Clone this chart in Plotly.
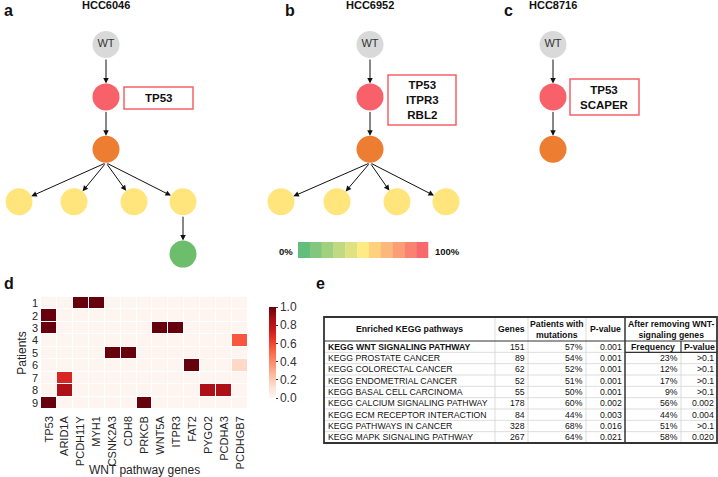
import plotly.graph_objects as go

# ---------------- DATA ----------------
tree_names = ["HCC6046", "HCC6952", "HCC8716"]
panel_letters = ["a", "b", "c"]
# parent index of each node (None = root)
tree_a_parents = [None, 0, 1, 2, 2, 2, 2, 6]
tree_b_parents = [None, 0, 1, 2, 2, 2, 2]
tree_c_parents = [None, 0, 1]
# clonal frequency class of each node
tree_a_classes = ["WT", "100%", "90%", "50%", "50%", "50%", "50%", "0%"]
tree_b_classes = ["WT", "100%", "90%", "50%", "50%", "50%", "50%"]
tree_c_classes = ["WT", "100%", "90%"]
tree_a_genes = ["TP53"]
tree_b_genes = ["TP53", "ITPR3", "RBL2"]
tree_c_genes = ["TP53", "SCAPER"]
scale_labels = ["0%", "100%"]

genes = ["TP53", "ARID1A", "PCDH11Y", "MYH1", "CSNK2A3", "CDH8", "PRKCB",
         "WNT5A", "ITPR3", "FAT2", "PYGO2", "PCDHA3", "PCDHGB7"]
patients = ["1", "2", "3", "4", "5", "6", "7", "8", "9"]
z = [
    [0, 0, 1, 1, 0, 0, 0, 0, 0, 0, 0, 0, 0],
    [1, 0, 0, 0, 0, 0, 0, 0, 0, 0, 0, 0, 0],
    [1, 0, 0, 0, 0, 0, 0, 1, 1, 0, 0, 0, 0],
    [0, 0, 0, 0, 0, 0, 0, 0, 0, 0, 0, 0, 0.55],
    [0, 0, 0, 0, 1, 1, 0, 0, 0, 0, 0, 0, 0],
    [0, 0, 0, 0, 0, 0, 0, 0, 0, 1, 0, 0, 0.15],
    [0, 0.7, 0, 0, 0, 0, 0, 0, 0, 0, 0, 0, 0],
    [0, 0.85, 0, 0, 0, 0, 0, 0, 0, 0, 0.85, 0.85, 0],
    [1, 0, 0, 0, 0, 0, 1, 0, 0, 0, 0, 0, 0],
]
x_title = "WNT pathway genes"
y_title = "Patients"

pathways = ["KEGG WNT SIGNALING PATHWAY", "KEGG PROSTATE CANCER", "KEGG COLORECTAL CANCER",
            "KEGG ENDOMETRIAL CANCER", "KEGG BASAL CELL CARCINOMA",
            "KEGG CALCIUM SIGNALING PATHWAY", "KEGG ECM RECEPTOR INTERACTION",
            "KEGG PATHWAYS IN CANCER", "KEGG MAPK SIGNALING PATHWAY"]
n_genes = ["151", "89", "62", "52", "55", "178", "84", "328", "267"]
patients_pct = ["57%", "54%", "52%", "51%", "50%", "60%", "44%", "68%", "64%"]
p_values = ["0.001", "0.001", "0.001", "0.001", "0.001", "0.002", "0.003", "0.016", "0.021"]
freq_after = ["", "23%", "12%", "17%", "9%", "56%", "44%", "51%", "58%"]
p_after = ["", ">0.1", ">0.1", ">0.1", ">0.1", "0.002", "0.004", ">0.1", "0.020"]
table_headers = ["Enriched KEGG pathways", "Genes", "Patients with<br>mutations", "P-value",
                 "After removing WNT-<br>signaling genes"]
sub_headers = ["Frequency", "P-value"]

# ---------------- STYLE / LAYOUT ----------------
W, H = 718, 477
FONT = "Liberation Sans, Arial, sans-serif"
class_colors = {"WT": "#d9d9d9", "100%": "#f8606a", "90%": "#ed7d31",
                "50%": "#ffe57c", "0%": "#6cbe6c"}
scale_colors = ["#63be7b", "#82c77d", "#a1d07f", "#c1d980", "#e0e282", "#ffeb84",
                "#fed17f", "#fcb77a", "#fb9d75", "#f98370", "#f8696b"]
reds = [[0.0, "rgb(255,245,240)"], [0.125, "rgb(254,224,210)"], [0.25, "rgb(252,187,161)"],
        [0.375, "rgb(252,146,114)"], [0.5, "rgb(251,106,74)"], [0.625, "rgb(239,59,44)"],
        [0.75, "rgb(203,24,29)"], [0.875, "rgb(165,15,21)"], [1.0, "rgb(103,0,13)"]]

tree_x = [[106, 106, 106, 19, 74, 134, 183, 183],
          [370, 370, 370, 281, 337, 397, 446],
          [553, 553, 553]]
tree_boxes = [(124, 193, 87, 109), (388, 456, 75, 125), (570, 639, 79, 115)]
letter_x = [2, 283, 502]
Y0, DY, R = 44.5, 52.4, 13.5

fig = go.Figure()
shapes, annots = [], []

def depth_of(parents, i):
    d = 0
    while parents[i] is not None:
        i = parents[i]
        d += 1
    return d

trees = [(tree_a_parents, tree_a_classes, tree_a_genes),
         (tree_b_parents, tree_b_classes, tree_b_genes),
         (tree_c_parents, tree_c_classes, tree_c_genes)]

for t, (parents, classes, tgenes) in enumerate(trees):
    xs = tree_x[t]
    ys = [Y0 + DY * depth_of(parents, i) for i in range(len(parents))]
    # edges
    for i, p in enumerate(parents):
        if p is None:
            continue
        sx, sy = xs[p], ys[p] + R
        dx, dy = xs[i] - sx, ys[i] - sy
        L = (dx * dx + dy * dy) ** 0.5
        ex, ey = xs[i] - R * dx / L, ys[i] - R * dy / L
        annots.append(dict(x=ex, y=ey, ax=sx, ay=sy, xref="x2", yref="y2", axref="x2", ayref="y2",
                           showarrow=True, arrowhead=2, arrowsize=1.1, arrowwidth=1,
                           arrowcolor="#111", text=""))
    fig.add_trace(go.Scatter(
        x=xs, y=ys, mode="markers+text", xaxis="x2", yaxis="y2",
        marker=dict(size=2 * R, color=[class_colors[c] for c in classes], line=dict(width=0)),
        text=["WT" if c == "WT" else "" for c in classes],
        textfont=dict(family=FONT, size=11, color="#333"), textposition="middle center",
        hoverinfo="skip", showlegend=False))
    # gene box
    x0, x1, y0, y1 = tree_boxes[t]
    shapes.append(dict(type="rect", xref="x2", yref="y2", x0=x0, x1=x1, y0=y0, y1=y1,
                       line=dict(color="#f8606a", width=1.5)))
    annots.append(dict(x=(x0 + x1) / 2, y=(y0 + y1) / 2, xref="x2", yref="y2",
                       text="<b>" + "<br>".join(tgenes) + "</b>", showarrow=False,
                       font=dict(family=FONT, size=11.5, color="#111")))
    annots.append(dict(x=xs[0], y=5, xref="x2", yref="y2", text="<b>" + tree_names[t] + "</b>",
                       showarrow=False, font=dict(family=FONT, size=11, color="#111")))
    annots.append(dict(x=letter_x[t], y=10, xref="x2", yref="y2", text="<b>" + panel_letters[t] + "</b>",
                       showarrow=False, xanchor="left", font=dict(family=FONT, size=16, color="#111")))

# frequency scale
bx0, bx1, by0, by1 = 298, 428, 242, 258
bw = (bx1 - bx0) / len(scale_colors)
for k, c in enumerate(scale_colors):
    shapes.append(dict(type="rect", xref="x2", yref="y2", x0=bx0 + k * bw, x1=bx0 + (k + 1) * bw + 0.3,
                       y0=by0, y1=by1, fillcolor=c, line=dict(width=0)))
annots.append(dict(x=bx0 - 3, y=251, xref="x2", yref="y2", text="<b>" + scale_labels[0] + "</b>",
                   xanchor="right", showarrow=False, font=dict(family=FONT, size=9.5, color="#111")))
annots.append(dict(x=bx1 + 5, y=251, xref="x2", yref="y2", text="<b>" + scale_labels[1] + "</b>",
                   xanchor="left", showarrow=False, font=dict(family=FONT, size=9.5, color="#111")))

# panel letters d, e
annots.append(dict(x=2, y=283, xref="x2", yref="y2", text="<b>d</b>", showarrow=False, xanchor="left",
                   font=dict(family=FONT, size=16, color="#111")))
annots.append(dict(x=314, y=283, xref="x2", yref="y2", text="<b>e</b>", showarrow=False, xanchor="left",
                   font=dict(family=FONT, size=16, color="#111")))

# ---------------- HEATMAP ----------------
fig.add_trace(go.Heatmap(
    z=z, x=genes, y=patients, colorscale=reds, zmin=0, zmax=1, xgap=1, ygap=1,
    hoverinfo="skip",
    colorbar=dict(x=259 / W, xanchor="left", y=1 - 352.5 / H, yanchor="middle", len=111 / H,
                  lenmode="fraction", thickness=7, outlinewidth=0, tickvals=[0, 0.2, 0.4, 0.6, 0.8, 1.0],
                  ticktext=["0.0", "0.2", "0.4", "0.6", "0.8", "1.0"], ticks="outside", ticklen=2,
                  tickcolor="#333", tickfont=dict(family=FONT, size=12, color="#333"))))
annots.append(dict(x=(41 + 248) / 2, y=470, xref="x2", yref="y2", text=x_title, showarrow=False,
                   font=dict(family=FONT, size=12, color="#262626")))

# ---------------- TABLE ----------------
cols = [324, 495, 528, 586, 625, 681, 717]
top, hdr_bot, bot = 317, 341, 443
rh = (bot - hdr_bot) / len(pathways)
light = "#d4d4d4"
dark = "#333"
# light grid
for i in range(1, len(pathways)):
    yy = hdr_bot + i * rh
    shapes.append(dict(type="line", xref="x2", yref="y2", x0=cols[0], x1=cols[-1], y0=yy, y1=yy,
                       line=dict(color=light, width=0.8)))
for c in cols[1:4]:
    shapes.append(dict(type="line", xref="x2", yref="y2", x0=c, x1=c, y0=top, y1=bot,
                       line=dict(color=light, width=0.8)))
shapes.append(dict(type="line", xref="x2", yref="y2", x0=cols[5], x1=cols[5], y0=hdr_bot + rh, y1=bot,
                   line=dict(color=light, width=0.8)))
# dark lines
shapes.append(dict(type="line", xref="x2", yref="y2", x0=cols[0], x1=cols[-1], y0=hdr_bot, y1=hdr_bot,
                   line=dict(color=dark, width=1.2)))
shapes.append(dict(type="line", xref="x2", yref="y2", x0=cols[4], x1=cols[4], y0=top, y1=bot,
                   line=dict(color=dark, width=1.5)))
shapes.append(dict(type="line", xref="x2", yref="y2", x0=cols[4], x1=cols[-1], y0=hdr_bot + rh,
                   y1=hdr_bot + rh, line=dict(color=dark, width=1.2)))
shapes.append(dict(type="line", xref="x2", yref="y2", x0=cols[5], x1=cols[5], y0=hdr_bot,
                   y1=hdr_bot + rh, line=dict(color=dark, width=1.2)))
shapes.append(dict(type="rect", xref="x2", yref="y2", x0=cols[0], x1=cols[-1], y0=top, y1=bot,
                   line=dict(color=dark, width=1.8)))

tf = dict(family=FONT, size=8.7, color="#111")
hdr_centers = [(cols[0] + cols[1]) / 2, (cols[1] + cols[2]) / 2, (cols[2] + cols[3]) / 2,
               (cols[3] + cols[4]) / 2, (cols[4] + cols[6]) / 2]
for cx, txt in zip(hdr_centers, table_headers):
    annots.append(dict(x=cx, y=(top + hdr_bot) / 2, xref="x2", yref="y2", text="<b>" + txt + "</b>",
                       showarrow=False, font=tf))
for k, txt in enumerate(sub_headers):
    annots.append(dict(x=(cols[4 + k] + cols[5 + k]) / 2, y=hdr_bot + rh / 2, xref="x2", yref="y2",
                       text="<b>" + txt + "</b>", showarrow=False, font=tf))
for i in range(len(pathways)):
    yc = hdr_bot + (i + 0.5) * rh
    name = "<b>" + pathways[i] + "</b>" if i == 0 else pathways[i]
    annots.append(dict(x=cols[0] + 1.5, y=yc, xref="x2", yref="y2", text=name, xanchor="left",
                       showarrow=False, font=tf))
    for j, arr in enumerate([n_genes, patients_pct, p_values, freq_after, p_after]):
        if arr[i] == "":
            continue
        annots.append(dict(x=cols[j + 2] - 1.5, y=yc, xref="x2", yref="y2", text=arr[i],
                           xanchor="right", showarrow=False, font=tf))

fig.update_layout(
    width=W, height=H, margin=dict(l=0, r=0, t=0, b=0),
    paper_bgcolor="white", plot_bgcolor="rgba(0,0,0,0)", hovermode=False,
    shapes=shapes, annotations=annots,
    xaxis=dict(domain=[41 / W, 248 / W], tickangle=-90, showgrid=False, zeroline=False,
               ticks="", ticklabelstandoff=4, tickfont=dict(family=FONT, size=11, color="#262626"),
               automargin=False, anchor="y"),
    yaxis=dict(domain=[1 - 409 / H, 1 - 297 / H], autorange="reversed", showgrid=False, zeroline=False,
               ticks="", tickmode="array", tickvals=patients, ticklabelstandoff=2,
               tickfont=dict(family=FONT, size=11, color="#262626"),
               title=dict(text=y_title, standoff=2, font=dict(family=FONT, size=12, color="#262626")),
               automargin=False, anchor="x"),
    xaxis2=dict(domain=[0, 1], range=[0, W], visible=False, fixedrange=True, anchor="y2"),
    yaxis2=dict(domain=[0, 1], range=[H, 0], visible=False, fixedrange=True, anchor="x2"),
)

fig.write_html("out.html", config={"displayModeBar": False},
               post_script="document.body.style.margin='0px';")
